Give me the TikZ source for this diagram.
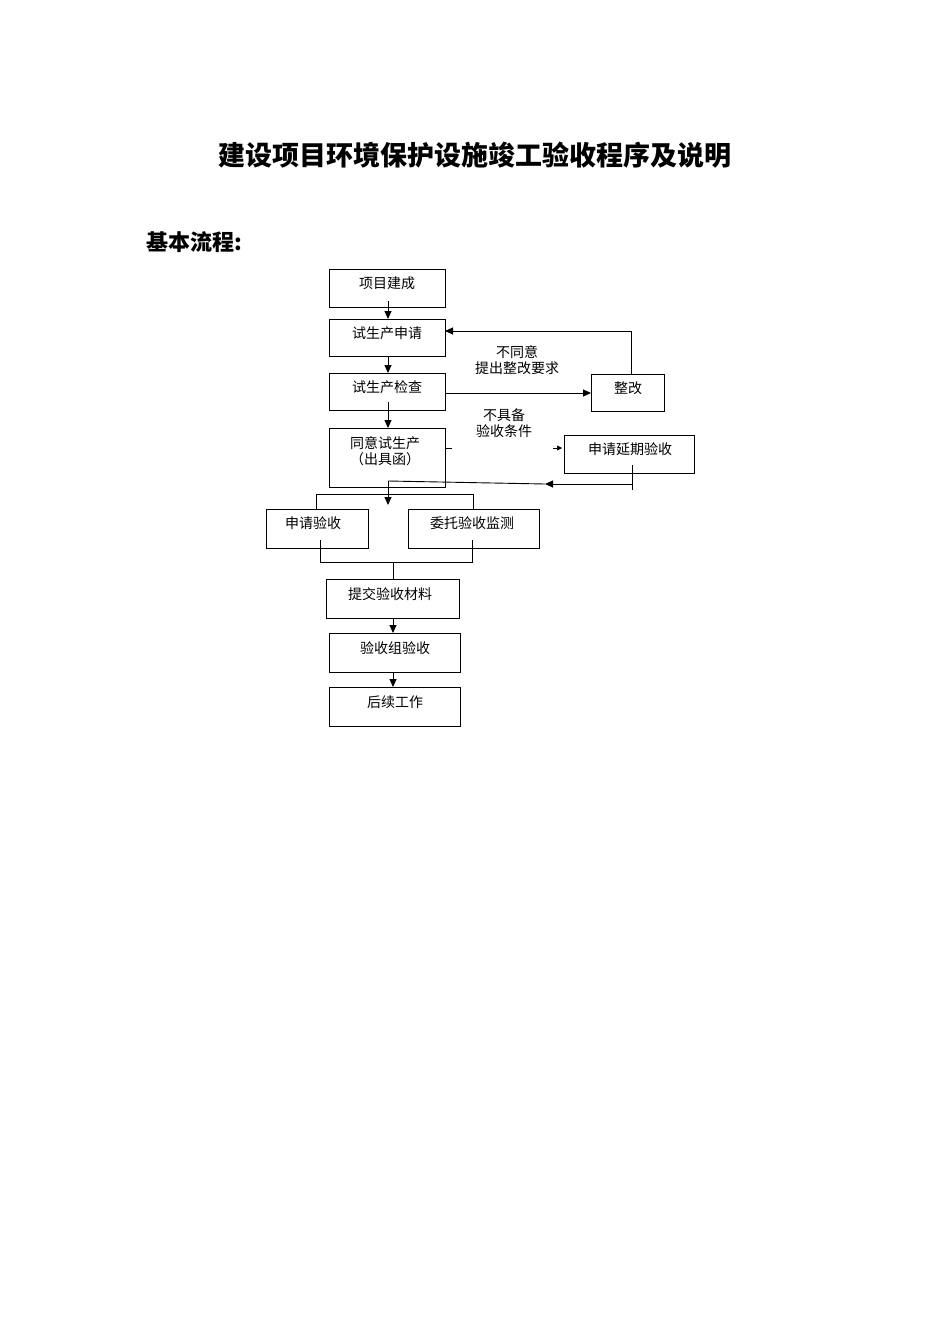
\documentclass[tikz,border=0pt]{standalone}
\usepackage{fontspec}
\setmainfont{Noto Sans CJK SC}
\usetikzlibrary{arrows.meta}
\begin{document}
\begin{tikzpicture}[x=1pt,y=-1pt,
  bx/.style={draw,line width=0.9pt,anchor=north west,inner sep=0pt},
  tx/.style={font=\fontsize{14}{16}\selectfont},
  ln/.style={line width=0.9pt},
  ar/.style={line width=0.9pt,-{Triangle[length=8pt,width=7pt]}}]
\useasboundingbox (0,0) rectangle (950,1344);
\node[font=\bfseries\fontsize{27}{30}\selectfont] (title) at (475,155) {建设项目环境保护设施竣工验收程序及说明};
\node[font=\bfseries\fontsize{22}{26}\selectfont,anchor=west] (sub) at (143,242) {基本流程:};
% boxes
\draw[ln] (329,269) rectangle (445,307); \node[tx] (a) at (387,283) {项目建成};
\draw[ln] (329,319) rectangle (445,356); \node[tx] (b) at (387,333) {试生产申请};
\draw[ln] (329,373) rectangle (445,410); \node[tx] (c) at (387,387) {试生产检查};
\draw[ln] (329,428) rectangle (445,487); \node[tx,align=center] (d) at (385,451) {同意试生产\\（出具函）};
\draw[ln] (591,374) rectangle (664,411); \node[tx] (e) at (628,388) {整改};
\draw[ln] (564,435) rectangle (694,473); \node[tx] (f) at (630,449) {申请延期验收};
\draw[ln] (266,509) rectangle (368,548); \node[tx] (g) at (313,523) {申请验收};
\draw[ln] (408,509) rectangle (539,548); \node[tx] (h) at (472,523) {委托验收监测};
\draw[ln] (326,579) rectangle (459,618); \node[tx] (i) at (390,594) {提交验收材料};
\draw[ln] (329,633) rectangle (460,672); \node[tx] (j) at (395,648) {验收组验收};
\draw[ln] (329,687) rectangle (460,726); \node[tx] (k) at (395,702) {后续工作};
\node[tx,align=center] (l1) at (517,360) {不同意\\提出整改要求};
\node[tx,align=center] (l2) at (504,423) {不具备\\验收条件};
% connectors
\draw[ar] (388,301) -- (388,319);
\draw[ar] (388,356) -- (388,373);
\draw[ar] (388,402) -- (388,428);
\draw[ar] (445,393) -- (591,393);
\draw[ar] (631,374) -- (631,331) -- (445,331);
\draw[ln] (445,448) -- (452,448);
\draw[line width=0.6pt,-{Triangle[length=5pt,width=5pt]}] (553,448) -- (562,448);
\draw[ln] (632,465) -- (632,490);
\draw[ar] (632,484) -- (545,484);
\draw[ln] (545,484) -- (388,481);
\draw[ar] (388,481) -- (388,505);
\draw[ln] (316,509) -- (316,494) -- (473,494) -- (473,509);
\draw[ln] (320,540) -- (320,562) -- (472,562) -- (472,540);
\draw[ln] (393,562) -- (393,579);
\draw[ar] (393,618) -- (393,633);
\draw[ar] (393,672) -- (393,687);
\end{tikzpicture}
\end{document}
